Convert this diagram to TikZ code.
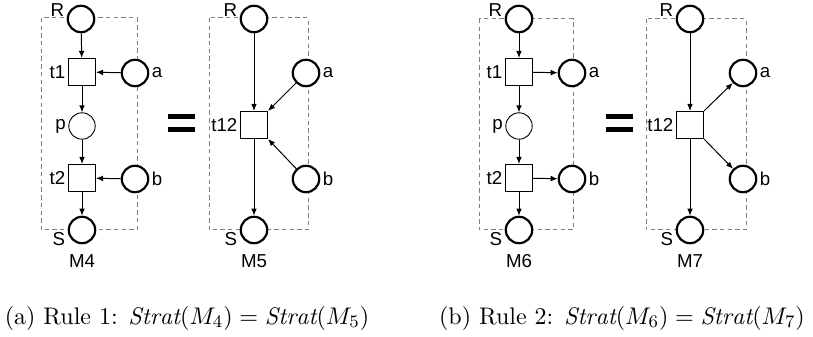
\documentclass[tikz,border=0pt]{standalone}
\usepackage{fontspec}
\newfontfamily\netfont{Liberation Sans}
\usetikzlibrary{arrows.meta}
\begin{document}
\begin{tikzpicture}[x=0.4545pt,y=-0.4545pt,
    place/.style={circle,draw,line width=1pt,fill=white,minimum size=12pt,inner sep=0pt},
    inner/.style={circle,draw,line width=0.4pt,fill=white,minimum size=12pt,inner sep=0pt},
    trans/.style={rectangle,draw,line width=0.45pt,fill=white,minimum size=12.3pt,inner sep=0pt},
    box/.style={draw=gray,dashed,dash pattern=on 2pt off 1.5pt,line width=0.45pt},
    arc/.style={-{Latex[length=3.2pt,width=2.6pt]},line width=0.45pt},
    lbl/.style={font=\netfont\fontsize{8.5}{10}\selectfont,inner sep=1pt},
    captext/.style={font=\fontsize{10.9}{13}\selectfont},
    eqbar/.style={fill=black}]
  \useasboundingbox (0,0) rectangle (813,337);

  % M4
  \draw[box] (41,18) rectangle (137,230);
  \node[place] (r4) at (81,19) {};
  \node[trans] (t14) at (82,72) {};
  \node[place] (a4) at (135,73) {};
  \node[inner] (p4) at (82,126) {};
  \node[trans] (t24) at (82,178) {};
  \node[place] (b4) at (135,179) {};
  \node[place] (s4) at (82,230) {};
  \node[lbl,anchor=south east] at (r4.west) {R};
  \node[lbl,left] at (t14.west) {t1};
  \node[lbl,right] at (a4.east) {a};
  \node[lbl,left] at (p4.west) {p};
  \node[lbl,left] at (t24.west) {t2};
  \node[lbl,right] at (b4.east) {b};
  \node[lbl,anchor=north east] at (s4.west) {S};
  \node[lbl] (m4) at (82,261) {M4};
  \draw[arc] (r4) -- (t14);
  \draw[arc] (a4) -- (t14);
  \draw[arc] (t14) -- (p4);
  \draw[arc] (p4) -- (t24);
  \draw[arc] (b4) -- (t24);
  \draw[arc] (t24) -- (s4);

  % =
  \fill[eqbar] (168,114) rectangle (195,119);
  \fill[eqbar] (168,127) rectangle (195,132);

  % M5
  \draw[box] (209,18) rectangle (308,230);
  \node[place] (r5) at (254,19) {};
  \node[place] (a5) at (306,73) {};
  \node[trans] (t5) at (254,125) {};
  \node[place] (b5) at (306,179) {};
  \node[place] (s5) at (254,230) {};
  \node[lbl,anchor=south east] at (r5.west) {R};
  \node[lbl,right] at (a5.east) {a};
  \node[lbl,left] at (t5.west) {t12};
  \node[lbl,right] at (b5.east) {b};
  \node[lbl,anchor=north east] at (s5.west) {S};
  \node[lbl] (m5) at (254,261) {M5};
  \draw[arc] (r5) -- (t5);
  \draw[arc] (a5) -- (t5.north east);
  \draw[arc] (b5) -- (t5.south east);
  \draw[arc] (t5) -- (s5);

  % M6
  \draw[box] (479,19) rectangle (573,230);
  \node[place] (r6) at (519,19) {};
  \node[trans] (t16) at (519,72) {};
  \node[place] (a6) at (572,73) {};
  \node[inner] (p6) at (519,126) {};
  \node[trans] (t26) at (519,178) {};
  \node[place] (b6) at (572,179) {};
  \node[place] (s6) at (519,230) {};
  \node[lbl,anchor=south east] at (r6.west) {R};
  \node[lbl,left] at (t16.west) {t1};
  \node[lbl,right] at (a6.east) {a};
  \node[lbl,left] at (p6.west) {p};
  \node[lbl,left] at (t26.west) {t2};
  \node[lbl,right] at (b6.east) {b};
  \node[lbl,anchor=north east] at (s6.west) {S};
  \node[lbl] (m6) at (519,261) {M6};
  \draw[arc] (r6) -- (t16);
  \draw[arc] (t16) -- (a6);
  \draw[arc] (t16) -- (p6);
  \draw[arc] (p6) -- (t26);
  \draw[arc] (t26) -- (b6);
  \draw[arc] (t26) -- (s6);

  % =
  \fill[eqbar] (606,114) rectangle (633,119);
  \fill[eqbar] (606,127) rectangle (633,132);

  % M7
  \draw[box] (646,19) rectangle (746,230);
  \node[place] (r7) at (690,19) {};
  \node[place] (a7) at (743,73) {};
  \node[trans] (t7) at (690,125) {};
  \node[place] (b7) at (743,179) {};
  \node[place] (s7) at (690,230) {};
  \node[lbl,anchor=south east] at (r7.west) {R};
  \node[lbl,right] at (a7.east) {a};
  \node[lbl,left] at (t7.west) {t12};
  \node[lbl,right] at (b7.east) {b};
  \node[lbl,anchor=north east] at (s7.west) {S};
  \node[lbl] (m7) at (690,261) {M7};
  \draw[arc] (r7) -- (t7);
  \draw[arc] (t7.north east) -- (a7);
  \draw[arc] (t7.south east) -- (b7);
  \draw[arc] (t7) -- (s7);

  % captions
  \node[captext] (capa) at (187,318) {(a) Rule 1: $\mathit{Strat}(M_4) = \mathit{Strat}(M_5)$};
  \node[captext] (capb) at (622,318) {(b) Rule 2: $\mathit{Strat}(M_6) = \mathit{Strat}(M_7)$};
\end{tikzpicture}
\end{document}
